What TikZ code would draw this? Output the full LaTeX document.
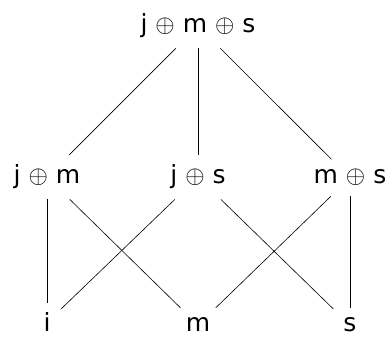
\documentclass[tikz,border=0pt]{standalone}
\usepackage{fontspec}
\setmainfont{DejaVu Sans}
\usetikzlibrary{positioning}
\newcommand{\dsum}{{\fontsize{30}{30}\selectfont$\oplus$}}
\tikzset{
elem/.style={anchor=base,inner sep=10pt,font=\fontsize{25}{30}\selectfont},
cover/.style={line width=.6pt}
}
\begin{document}
\begin{tikzpicture}[x=1pt,y=1pt]
\useasboundingbox (0,0) rectangle (388,337);
\node[elem](jms) at (198,304){j \dsum{} m \dsum{} s};
\node[elem](jm) at (47,153){j \dsum{} m};
\node[elem](js) at (198,153){j \dsum{} s};
\node[elem](ms) at (350,153){m \dsum{} s};
\node[elem](j) at (47,5){i};
\node[elem](m) at (198,5){m};
\node[elem](s) at (350,5){s};
\draw[cover](jms)--(jm);\draw[cover](jms)--(js);\draw[cover](jms)--(ms);
\draw[cover](jm)--(j);\draw[cover](jm)--(m);
\draw[cover](js)--(j);\draw[cover](js)--(s);
\draw[cover](ms)--(m);\draw[cover](ms)--(s);
\end{tikzpicture}
\end{document}
